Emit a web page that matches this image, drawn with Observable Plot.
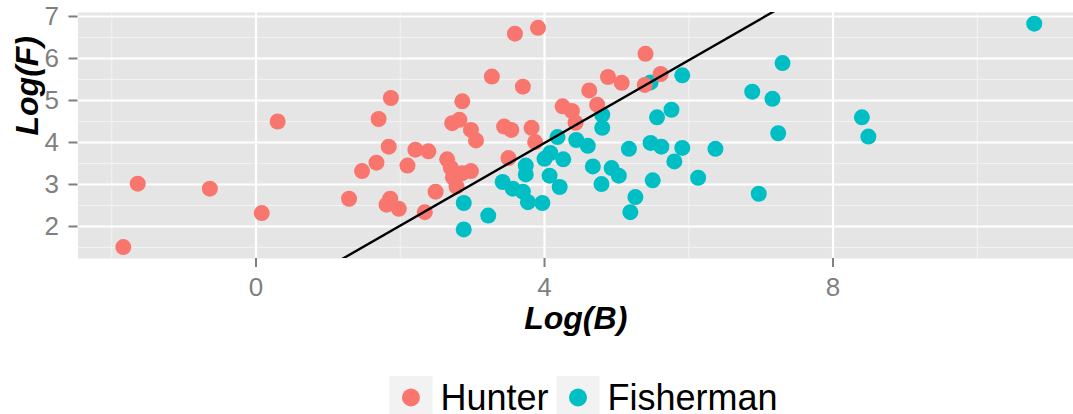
<!DOCTYPE html>
<html>
<head>
<meta charset="utf-8">
<script src="https://cdn.jsdelivr.net/npm/d3@7"></script>
<script src="https://cdn.jsdelivr.net/npm/@observablehq/plot@0.6"></script>
<style>
  html, body { margin: 0; padding: 0; background: #ffffff; }
  #wrap { position: relative; width: 1073px; height: 414px; overflow: hidden; font-family: "Liberation Sans", Arial, Helvetica, sans-serif; }
  #legend { position: absolute; left: 0; top: 0; }
</style>
</head>
<body>
<div id="wrap"></div>
<script>
// ---- data ----
const groups = ["Hunter", "Fisherman"];
const groupColors = ["#F8766D", "#00BFC4"];

const hunterB = [-1.84, -1.64, -0.64, 0.08, 0.30, 1.29, 1.47, 1.67, 1.70, 1.87, 1.84, 1.86, 1.81, 1.98, 2.10, 2.21, 2.39, 2.49, 2.34, 2.86, 2.72, 2.82, 2.98, 3.05, 2.65, 2.70, 2.73, 2.78, 2.86, 2.98, 3.27, 3.59, 3.91, 3.70, 3.44, 3.54, 3.82, 3.87, 3.50, 4.25, 4.38, 4.43, 4.62, 4.73, 4.88, 5.07, 5.40, 5.39, 5.61];
const hunterF = [1.51, 3.02, 2.90, 2.32, 4.50, 2.66, 3.32, 3.52, 4.56, 5.06, 3.90, 2.66, 2.52, 2.42, 3.45, 3.83, 3.79, 2.83, 2.34, 4.98, 4.46, 4.54, 4.30, 4.05, 3.60, 3.40, 3.17, 2.95, 3.27, 3.32, 5.57, 6.59, 6.73, 5.33, 4.38, 4.30, 4.35, 4.01, 3.63, 4.86, 4.75, 4.47, 5.24, 4.90, 5.56, 5.42, 6.11, 5.37, 5.63];

const fisherB = [2.88, 2.88, 3.22, 3.42, 3.56, 3.70, 3.77, 3.97, 3.74, 3.74, 4.07, 4.21, 4.00, 4.08, 4.26, 4.18, 4.44, 4.60, 4.67, 4.79, 4.93, 5.03, 5.17, 5.26, 5.19, 5.50, 5.47, 5.62, 5.80, 5.91, 6.13, 6.37, 5.56, 5.76, 4.80, 4.80, 5.47, 5.91, 6.88, 7.16, 7.24, 7.30, 6.97, 8.40, 8.49, 10.79];
const fisherF = [2.56, 1.93, 2.26, 3.06, 2.90, 2.83, 2.58, 2.56, 3.45, 3.24, 3.21, 2.94, 3.61, 3.75, 3.60, 4.13, 4.06, 3.92, 3.43, 3.01, 3.39, 3.21, 3.85, 2.70, 2.34, 3.10, 3.99, 3.90, 3.55, 3.87, 3.16, 3.85, 4.60, 4.78, 4.66, 4.35, 5.43, 5.60, 5.21, 5.04, 4.22, 5.89, 2.78, 4.60, 4.14, 6.83];

const xMajor = [0, 4, 8];
const xMinor = [-2, 2, 6, 10];
const yMajor = [2, 3, 4, 5, 6, 7];
const yMinor = [1.5, 2.5, 3.5, 4.5, 5.5, 6.5];

const xDomain = [-2.468, 11.334];
const yDomain = [1.238, 7.095];

const lineIntercept = 0.05;
const lineSlope = 0.985;

const xTitle = "Log(B)";
const yTitle = "Log(F)";

// ---- build table ----
const points = [
  ...fisherB.map((b, i) => ({B: b, F: fisherF[i], group: groups[1]})),
  ...hunterB.map((b, i) => ({B: b, F: hunterF[i], group: groups[0]}))
];
const lineData = xDomain.map(b => ({B: b, F: lineIntercept + lineSlope * b}));

const grey = "#7F7F7F";
const font = "Liberation Sans, Arial, Helvetica, sans-serif";

const chart = Plot.plot({
  width: 1073,
  height: 414,
  marginLeft: 77.5,
  marginRight: 0,
  marginTop: 12,
  marginBottom: 156,
  style: {fontFamily: font, background: "transparent", overflow: "visible"},
  x: {domain: xDomain},
  y: {domain: yDomain},
  color: {domain: groups, range: groupColors},
  marks: [
    Plot.frame({fill: "#E5E5E5", stroke: "none"}),
    Plot.ruleX(xMinor, {stroke: "#F2F2F2", strokeWidth: 1.1}),
    Plot.ruleY(yMinor, {stroke: "#F2F2F2", strokeWidth: 1.1}),
    Plot.ruleX(xMajor, {stroke: "#FFFFFF", strokeWidth: 2.2}),
    Plot.ruleY(yMajor, {stroke: "#FFFFFF", strokeWidth: 2.2}),
    Plot.axisX({ticks: xMajor, tickSize: 9, tickPadding: 10, fontSize: 26, color: grey, strokeWidth: 2, tickFormat: d => String(d), label: null}),
    Plot.axisY({ticks: yMajor, tickSize: 9, tickPadding: 10, fontSize: 26, color: grey, strokeWidth: 2, tickFormat: d => String(d), label: null}),
    Plot.dot(points, {x: "B", y: "F", fill: "group", r: 8, stroke: "none"}),
    Plot.line(lineData, {x: "B", y: "F", stroke: "#000000", strokeWidth: 2.4, clip: true}),
    Plot.text([xTitle], {frameAnchor: "bottom", dy: 60, text: d => d, fontSize: 32, fontWeight: "bold", fontStyle: "italic", fill: "#000000", lineAnchor: "middle"}),
    Plot.text([yTitle], {frameAnchor: "left", dx: -50.5, rotate: -90, text: d => d, fontSize: 32, fontWeight: "bold", fontStyle: "italic", fill: "#000000", lineAnchor: "middle"})
  ]
});

const wrap = document.getElementById("wrap");
wrap.appendChild(chart);

// ---- legend (below the panel) ----
const legend = d3.select(wrap).append("svg")
  .attr("id", "legend")
  .attr("width", 1073).attr("height", 414)
  .style("font-family", font);
const keySize = 43, gap = 8, legendTop = 376, legendCenter = 583.5, legendFont = 36;
const items = legend.selectAll("g").data(groups).join("g");
items.append("rect").attr("width", keySize).attr("height", keySize).attr("fill", "#F2F2F2");
items.append("circle").attr("cx", keySize / 2).attr("cy", keySize / 2).attr("r", 9)
  .attr("fill", (d, i) => groupColors[i]);
items.append("text").attr("x", keySize + gap).attr("y", 34)
  .attr("font-size", legendFont).attr("fill", "#000").text(d => d);
const widths = items.nodes().map(n => keySize + gap + n.querySelector("text").getComputedTextLength());
const total = d3.sum(widths) + gap * (groups.length - 1);
let cx = legendCenter - total / 2;
items.each(function (d, i) {
  d3.select(this).attr("transform", `translate(${cx},${legendTop})`);
  cx += widths[i] + gap;
});
</script>
</body>
</html>
